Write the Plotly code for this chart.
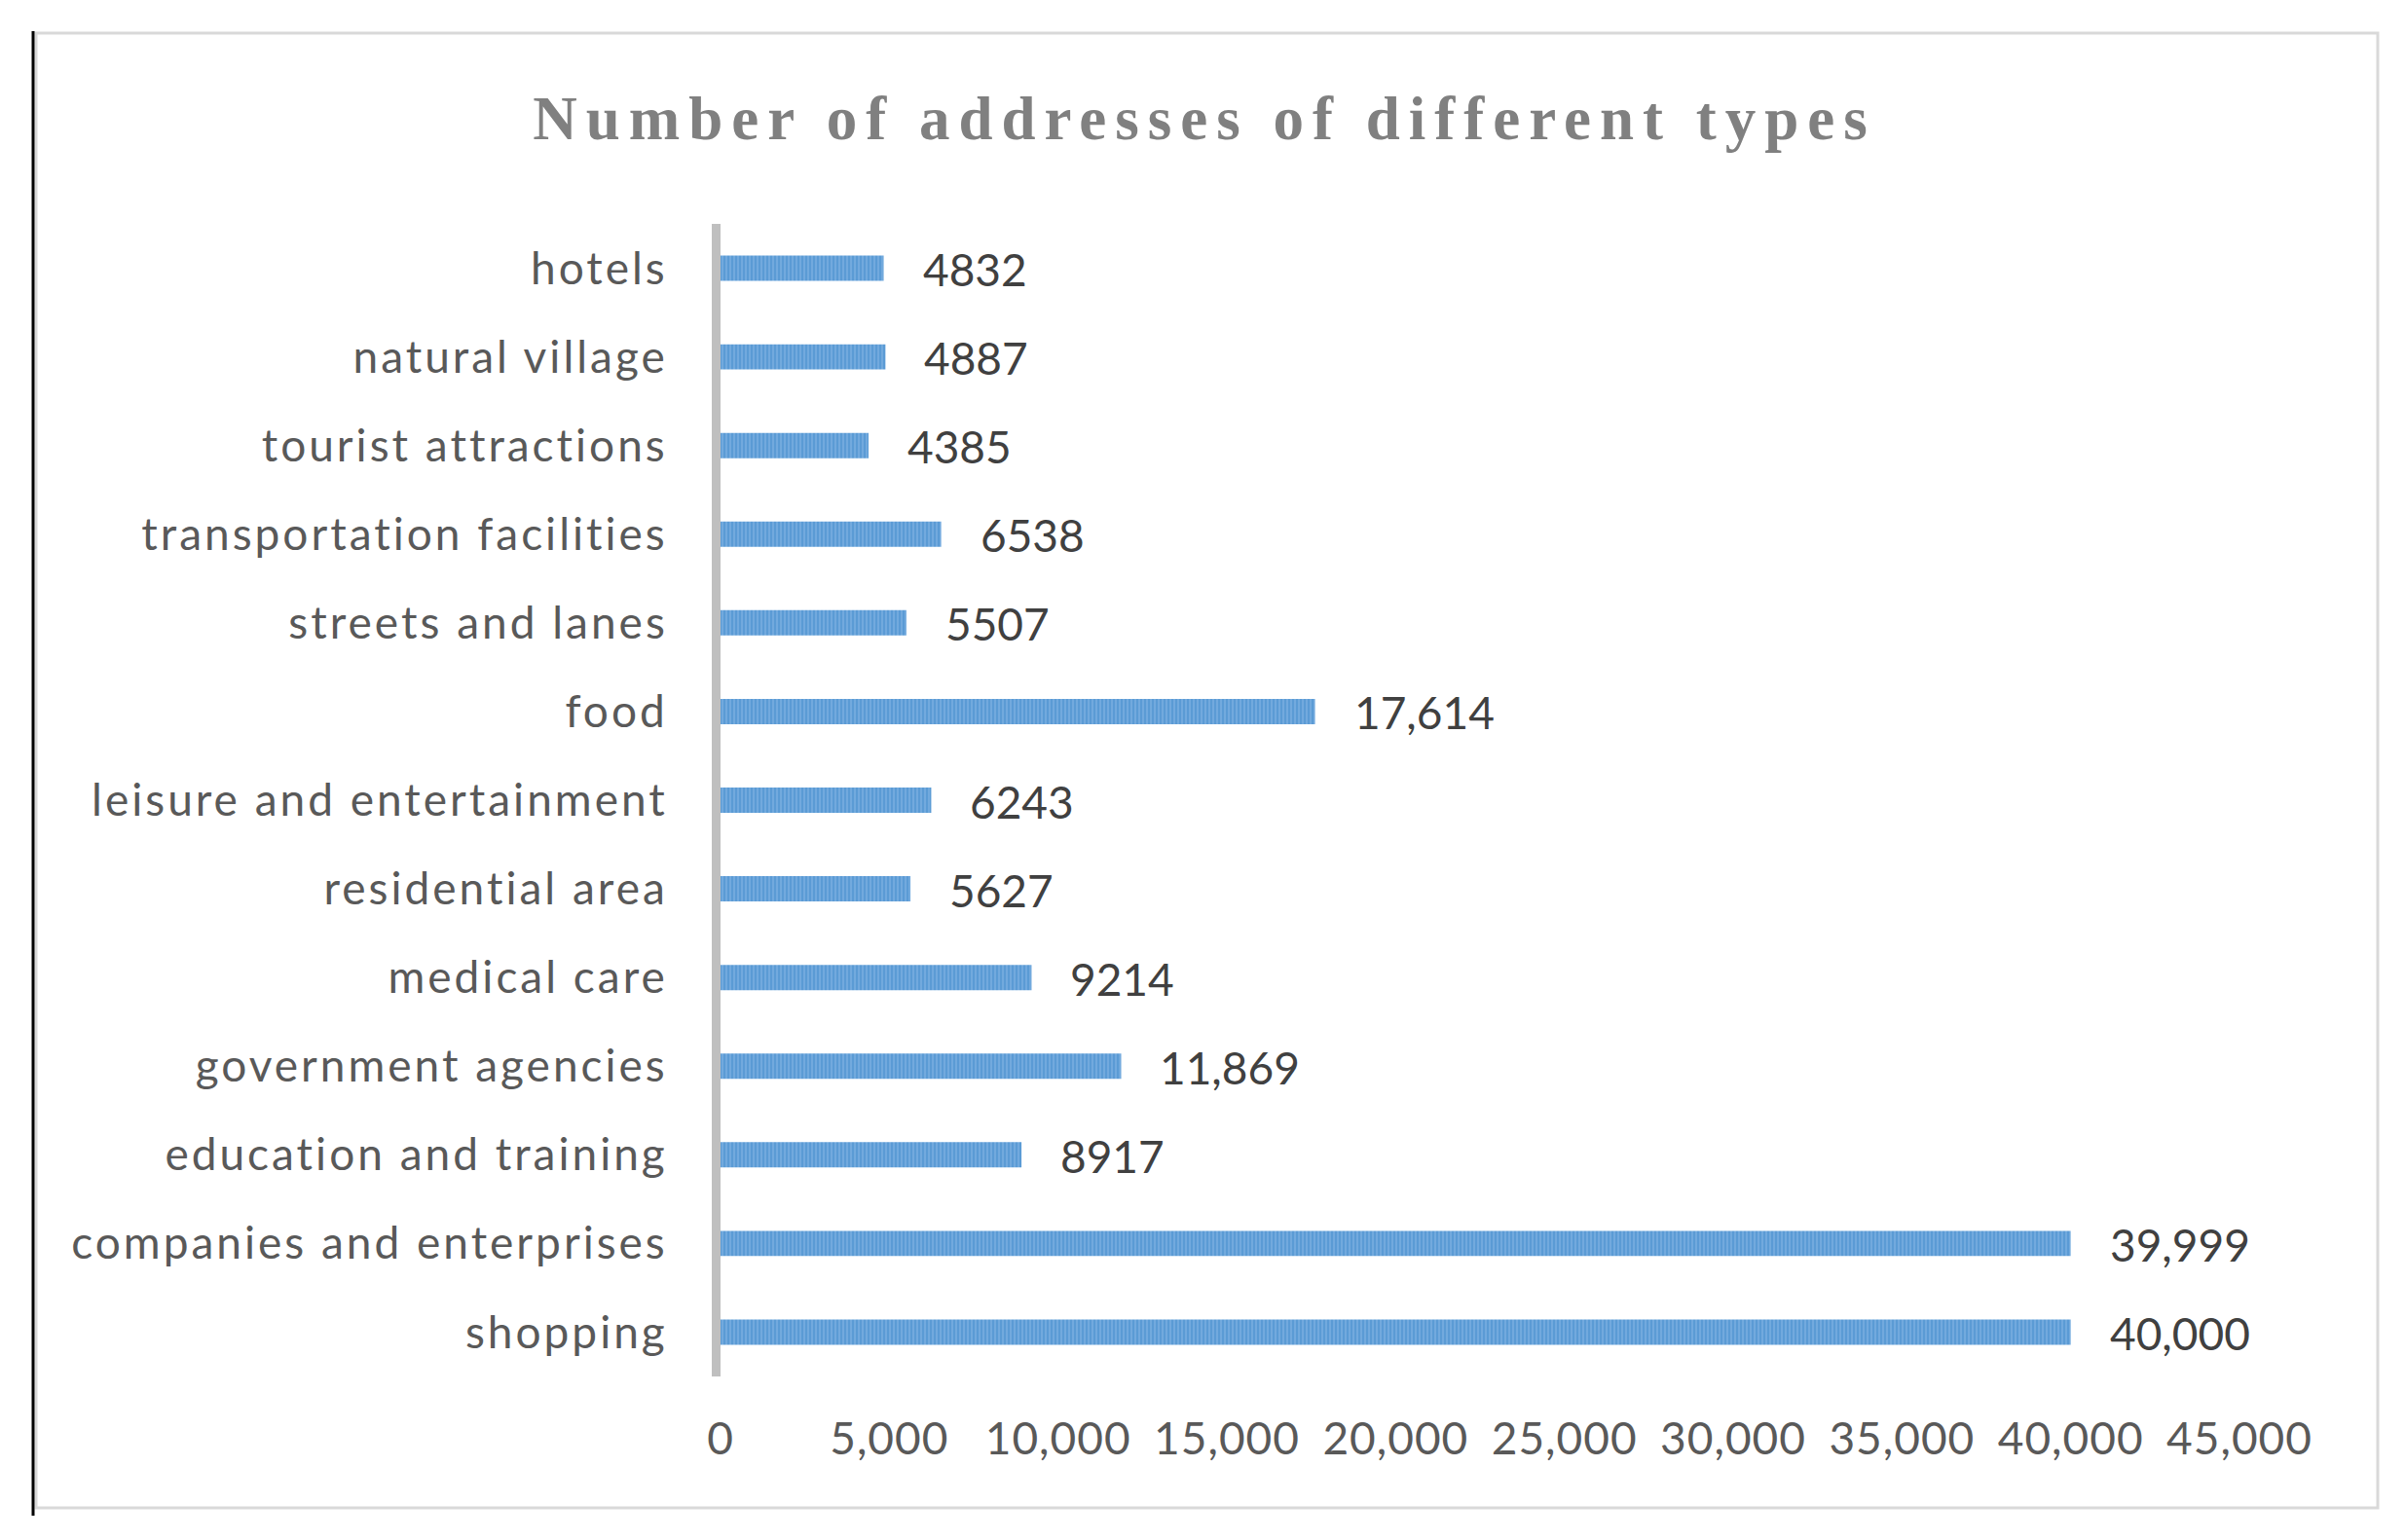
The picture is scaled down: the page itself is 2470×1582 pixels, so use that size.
import plotly.graph_objects as go

categories = [
    "hotels", "natural village", "tourist attractions", "transportation facilities",
    "streets and lanes", "food", "leisure and entertainment", "residential area",
    "medical care", "government agencies", "education and training",
    "companies and enterprises", "shopping",
]
values = [4832, 4887, 4385, 6538, 5507, 17614, 6243, 5627, 9214, 11869, 8917, 39999, 40000]
value_labels = ["4832", "4887", "4385", "6538", "5507", "17,614", "6243", "5627",
                "9214", "11,869", "8917", "39,999", "40,000"]
x_ticks = [0, 5000, 10000, 15000, 20000, 25000, 30000, 35000, 40000, 45000]
x_tick_labels = ["0", "5,000", "10,000", "15,000", "20,000", "25,000", "30,000",
                 "35,000", "40,000", "45,000"]
title_text = "Number of addresses of different types"

W, H = 2470, 1582
L, R, T, B = 740, 170, 230, 168
pw, ph = W - L - R, H - T - B

def px_x(p):
    return (p - L) / pw

def px_y(p):
    return (H - B - p) / ph

fig = go.Figure()
fig.add_trace(go.Bar(
    y=categories, x=values, orientation="h", width=0.285,
    marker=dict(color="#5B9BD5", line=dict(width=0),
                pattern=dict(shape="|", fgcolor="#9CC5EC", size=4, solidity=0.35)),
    hoverinfo="skip", showlegend=False,
))

for c, v, lab in zip(categories, values, value_labels):
    fig.add_annotation(x=v, y=c, text=lab, showarrow=False, xanchor="left",
                       yanchor="middle", xshift=38, yshift=-1,
                       font=dict(family="Lato", size=46, color="#404040"))

fig.add_shape(type="rect", xref="paper", yref="paper",
              x0=px_x(37), x1=px_x(2442), y0=px_y(1549), y1=px_y(34),
              line=dict(color="#D9D9D9", width=3), layer="below")
fig.add_shape(type="line", xref="paper", yref="paper",
              x0=px_x(34), x1=px_x(34), y0=px_y(1557), y1=px_y(32),
              line=dict(color="#000000", width=3))

fig.update_layout(
    width=W, height=H,
    margin=dict(l=L, r=R, t=T, b=B, pad=0),
    paper_bgcolor="white", plot_bgcolor="white",
    title=dict(text=title_text, x=1237 / W, xanchor="center",
               y=1 - 121 / H, yanchor="middle", yref="container",
               font=dict(family="Liberation Serif", size=63, color="#808080", weight="bold")),
    xaxis=dict(range=[0, 45000], tickvals=x_ticks, ticktext=x_tick_labels,
               showgrid=False, zeroline=False, showline=False, ticks="",
               ticklabelstandoff=33,
               tickfont=dict(family="Lato", size=46, color="#595959"), fixedrange=True),
    yaxis=dict(categoryorder="array", categoryarray=categories, autorange="reversed",
               showgrid=False, zeroline=False, showline=True, linecolor="#BFBFBF",
               linewidth=9, ticks="", ticklabelstandoff=36,
               tickfont=dict(family="Lato", size=46, color="#595959"), fixedrange=True),
    bargap=0.7,
)

post = """
(function(){
  document.body.style.margin = '0';
  document.body.style.padding = '0';
  var gd = document.getElementById('{plot_id}');
  function fix(){
    gd.querySelectorAll('.gtitle').forEach(function(e){ e.style.letterSpacing = '9px'; });
    gd.querySelectorAll('.ytick text').forEach(function(e){ e.style.letterSpacing = '3px'; });
    gd.querySelectorAll('.xtick text').forEach(function(e){ e.style.letterSpacing = '1px'; });
  }
  fix();
  if (gd.on) gd.on('plotly_afterplot', fix);
  setTimeout(fix, 50);
})();
"""
fig.write_html("out.html", post_script=post, config={"displayModeBar": False})
